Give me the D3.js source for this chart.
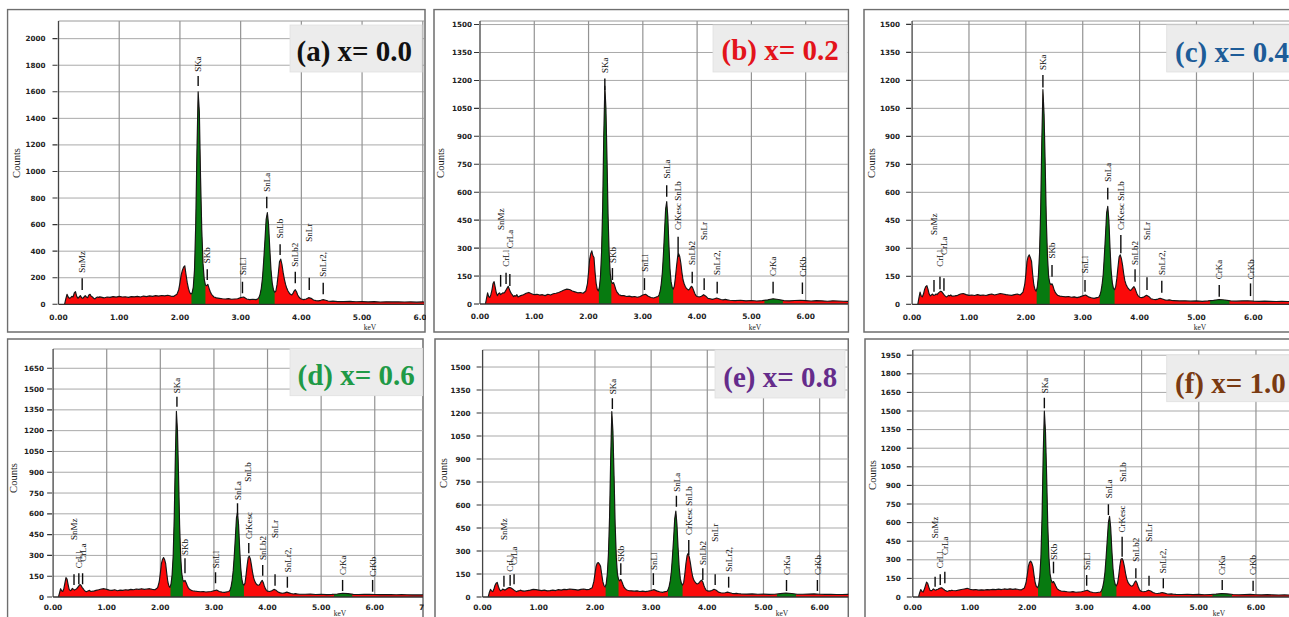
<!DOCTYPE html>
<html>
<head>
<meta charset="utf-8">
<script src="https://cdn.jsdelivr.net/npm/d3@7"></script>
<style>
  body { margin: 0; background: #ffffff; }
  svg { display: block; }
</style>
</head>
<body>
<svg id="chart" width="1289" height="617"></svg>
<script>
// ---------- Spectrum channels (keV) shared by all six samples ----------
const energy = [
  0.10,0.12,0.14,0.16,0.18,0.20,0.22,0.24,0.26,0.28,0.30,0.32,0.34,0.36,0.38,0.40,
  0.42,0.44,0.46,0.48,0.50,0.52,0.54,0.56,0.58,0.60,0.62,0.64,0.66,0.68,0.70,
  0.75,0.80,0.85,0.90,0.95,1.00,1.05,1.10,1.15,1.20,1.25,1.30,1.35,1.40,1.45,1.50,
  1.55,1.60,1.65,1.70,1.75,1.80,1.85,1.90,1.95,
  1.98,2.00,2.02,2.04,2.06,2.08,2.10,2.12,2.14,2.16,2.18,2.20,2.22,2.24,2.26,2.28,
  2.30,2.32,2.34,2.36,2.38,2.40,2.42,2.44,2.46,2.48,2.50,2.52,2.54,2.56,2.58,2.60,
  2.65,2.70,2.75,2.80,2.85,2.90,2.95,3.00,3.05,3.10,3.15,3.20,3.25,
  3.28,3.30,3.32,3.34,3.36,3.38,3.40,3.42,3.44,3.46,3.48,3.50,3.52,3.54,3.56,3.58,
  3.60,3.62,3.64,3.66,3.68,3.70,3.72,3.74,3.76,3.78,3.80,3.82,3.84,3.86,3.88,3.90,
  3.92,3.94,3.96,3.98,4.00,
  4.04,4.08,4.12,4.16,4.20,4.24,4.28,4.32,4.36,4.40,4.44,4.48,4.52,4.56,4.60,
  4.70,4.80,4.90,5.00,5.10,5.20,5.30,5.40,5.50,5.60,5.70,5.80,5.90,6.00,6.10,6.20,
  6.30,6.40,6.50,6.60,6.70,6.80,6.90,7.00
];

// ---------- Counts per channel ----------
const countsA = [
  0,40,75,55,45,50,60,55,85,95,60,45,55,65,50,45,55,65,55,50,70,75,60,55,45,40,50,55,52,56,54,
  48,55,52,58,54,60,55,57,52,58,56,60,55,62,58,63,60,65,62,66,63,68,62,60,75,
  110,160,220,255,280,290,225,165,120,90,78,85,130,260,600,1150,1600,1450,950,560,310,190,145,140,150,120,95,75,65,55,52,48,
  45,42,40,43,38,40,42,50,55,40,35,38,35,
  40,50,75,120,200,330,480,640,690,600,420,260,160,110,90,100,150,230,320,340,300,240,190,150,120,100,85,75,70,80,100,110,95,70,55,45,40,
  35,40,50,45,32,28,26,30,35,30,25,22,24,22,20,
  20,22,19,20,18,20,17,19,18,18,17,18,16,18,15,17,16,15,17,15,16,14,15,14
];
const countsB = [
  0,30,60,40,35,50,75,110,120,90,60,45,55,60,50,55,60,58,65,75,85,95,80,65,55,48,40,45,42,50,38,
  45,50,58,62,55,50,52,48,50,45,52,48,55,58,62,68,75,80,78,70,65,60,62,58,70,
  110,170,240,270,285,260,250,170,110,80,70,90,150,280,520,900,1170,1050,780,470,270,160,120,110,115,100,80,65,58,50,48,45,
  45,40,42,38,40,36,40,48,52,42,35,32,38,
  40,50,70,110,170,270,390,510,550,470,320,190,120,90,80,95,140,200,250,270,255,220,170,130,110,95,85,80,75,80,90,95,85,70,55,45,40,
  38,42,50,42,30,28,25,28,32,28,24,22,25,22,20,
  18,20,17,19,16,18,22,28,24,18,17,19,20,18,16,18,17,15,17,16,15,14,15,14
];
const countsC = [
  0,35,65,45,40,55,80,95,100,80,55,45,50,55,48,50,55,52,60,65,70,68,60,52,45,40,42,48,45,50,44,
  45,48,55,58,52,48,50,47,52,48,50,47,52,55,50,54,58,55,52,50,48,52,55,50,65,
  105,160,230,255,265,250,230,160,105,80,70,90,150,270,500,870,1150,1020,750,450,260,150,115,105,110,95,75,62,55,48,46,44,
  42,40,42,38,40,36,40,45,50,40,35,32,36,
  38,48,68,105,160,260,370,490,525,450,300,180,115,85,78,95,140,200,255,265,245,210,165,128,108,95,85,78,74,80,88,95,85,68,52,44,38,
  36,40,48,42,30,27,25,28,32,28,24,22,24,21,20,
  18,19,17,18,16,18,21,26,23,18,17,18,19,17,16,17,16,15,16,15,15,14,14,14
];
const countsD = [
  0,30,60,45,40,60,100,140,130,90,55,45,50,62,55,50,55,60,70,80,90,85,70,60,50,42,38,42,45,48,40,
  42,48,52,58,60,55,50,48,52,45,50,48,52,50,55,52,58,55,60,55,58,60,55,52,68,
  110,170,240,270,285,270,240,170,110,80,70,95,160,300,580,1000,1340,1200,880,520,290,170,125,110,120,105,85,68,58,52,48,45,
  42,40,38,40,36,38,40,45,50,40,35,33,38,
  40,50,75,120,190,300,430,570,610,520,350,210,130,95,85,100,160,230,285,295,275,230,180,140,115,100,90,85,85,95,110,120,105,80,60,48,42,
  40,45,55,48,35,30,27,30,35,30,25,22,24,22,20,
  20,21,18,20,17,19,22,27,24,19,18,19,20,18,17,18,17,16,17,16,15,15,15,14
];
const countsE = [
  0,30,50,40,35,50,75,90,95,70,50,40,45,52,48,45,50,55,60,62,60,55,50,45,40,35,38,40,42,45,40,
  38,42,45,50,48,45,42,45,40,42,45,42,48,45,50,48,52,50,48,45,50,52,48,50,60,
  100,150,200,220,225,215,200,150,100,75,65,85,150,280,520,900,1210,1080,790,470,260,150,115,105,115,100,80,62,54,48,44,42,
  40,38,40,36,38,35,38,42,48,40,34,30,35,
  36,46,68,105,165,265,380,510,560,470,320,190,118,88,78,95,150,220,270,285,260,220,170,132,110,98,90,85,88,95,105,110,98,75,56,45,40,
  38,42,50,44,32,28,26,28,32,28,24,22,24,21,20,
  19,20,18,19,17,18,22,26,23,18,18,19,20,18,17,18,16,16,17,16,15,15,15,14
];
const countsF = [
  0,35,60,45,40,60,90,120,110,80,55,50,55,65,58,55,60,62,68,72,75,70,62,55,50,45,48,52,50,55,52,
  50,55,60,65,70,62,58,60,55,58,56,60,58,62,60,64,60,65,62,66,62,65,60,58,72,
  115,175,245,280,290,275,245,175,115,85,75,95,165,320,650,1150,1500,1330,980,580,320,185,135,115,125,108,88,70,60,54,50,46,
  45,42,40,43,38,40,42,48,55,42,36,34,38,
  40,52,78,125,200,320,460,600,650,560,380,230,140,100,90,110,170,250,305,310,290,245,190,148,120,105,95,88,90,100,120,130,112,85,62,50,44,
  42,46,55,48,36,30,28,31,36,31,26,23,25,22,21,
  20,22,19,21,18,20,23,28,25,20,18,19,21,18,17,19,17,16,17,16,16,15,15,14
];

// ---------- Peak identifications: [label, keV, tick foot, tick head, label foot] (counts) ----------
const markersA = [
  ["SnMz",0.39,108,196,238], ["SKa",2.30,1644,1719,1751], ["SKb",2.45,183,264,309],
  ["SnLl",3.03,83,170,221], ["SnLa",3.43,723,810,848], ["SnLb",3.65,371,452,497],
  ["SnLb2",3.90,158,245,283], ["SnLr",4.13,108,200,471], ["SnLr2,",4.36,75,163,208]
];
const markersB = [
  ["SnMz",0.38,93,156,397], ["CrLl",0.48,107,168,200], ["CrLa",0.55,97,161,299],
  ["SKa",2.30,1148,1210,1240], ["SKb",2.44,129,193,220], ["SnLl",3.03,75,139,173],
  ["SnLa",3.44,575,638,674], ["CrKesc SnLb",3.65,252,361,397], ["SnLb2",3.91,111,173,209],
  ["SnLr",4.13,75,138,343], ["SnLr2,",4.37,57,120,156], ["CrKa",5.40,57,120,150],
  ["CrKb",5.94,54,116,146]
];
const markersC = [
  ["SnMz",0.385,67,130,371], ["CrLl",0.49,80,148,201], ["CrLa",0.56,73,139,264],
  ["SKa",2.30,1162,1228,1255], ["SKb",2.46,148,211,246], ["SnLl",3.04,67,130,166],
  ["SnLa",3.44,562,625,657], ["CrKesc SnLb",3.67,273,371,398], ["SnLb2",3.92,121,188,211],
  ["SnLr",4.13,77,145,344], ["SnLr2,",4.39,62,126,157], ["CrKa",5.40,41,103,134],
  ["CrKb",5.95,44,112,134]
];
const markersD = [
  ["SnMz",0.39,87,164,411], ["CrLl",0.48,92,171,207], ["CrLa",0.55,92,171,255],
  ["SKa",2.31,1373,1445,1470], ["SKb",2.46,171,279,303], ["SnLl",3.03,99,178,207],
  ["SnLa",3.44,592,676,700], ["CrKesc",3.65,315,390,418], ["SnLb",3.64,null,null,832],
  ["SnLb2",3.91,154,231,267], ["SnLr",4.14,82,164,426], ["SnLr2,",4.37,67,146,178],
  ["CrKa",5.40,43,123,159], ["CrKb",5.96,38,123,146]
];
const markersE = [
  ["SnMz",0.38,67,139,372], ["CrLl",0.49,74,143,165], ["CrLa",0.56,83,148,209],
  ["SKa",2.31,1226,1296,1322], ["SKb",2.46,143,220,230], ["SnLl",3.04,78,155,176],
  ["SnLa",3.45,589,661,687], ["CrKesc SnLb",3.67,274,372,404], ["SnLb2",3.92,111,187,209],
  ["SnLr",4.14,78,148,361], ["SnLr2,",4.38,61,132,165], ["CrKa",5.41,39,111,143],
  ["CrKb",5.96,39,111,143]
];
const markersF = [
  ["SnMz",0.39,83,164,473], ["CrLl",0.48,97,183,231], ["CrLa",0.56,110,204,339],
  ["SKa",2.30,1522,1607,1643], ["SKb",2.46,191,285,300], ["SnLl",3.04,91,177,218],
  ["SnLa",3.42,661,748,796], ["SnLb",3.68,null,null,930], ["CrKesc",3.66,325,486,520],
  ["SnLb2",3.90,151,231,285], ["SnLr",4.13,91,172,446], ["SnLr2,",4.38,70,151,191],
  ["CrKa",5.41,56,137,177], ["CrKb",5.95,48,131,177]
];

// ---------- Axis ticks ----------
const kevTicks = [0,1,2,3,4,5,6,7];
const ticksA = [0,200,400,600,800,1000,1200,1400,1600,1800,2000];
const ticksB = [0,150,300,450,600,750,900,1050,1200,1350,1500];
const ticksC = [0,150,300,450,600,750,900,1050,1200,1350,1500];
const ticksD = [0,150,300,450,600,750,900,1050,1200,1350,1500,1650];
const ticksE = [0,150,300,450,600,750,900,1050,1200,1350,1500];
const ticksF = [0,150,300,450,600,750,900,1050,1200,1350,1500,1650,1800,1950];

// ---------- Highlighted line windows (keV) ----------
const sulfurTinBands = [[2.19,2.42],[3.30,3.56]];
const chromiumBand = [5.24,5.58];

// ---------- Samples ----------
const titles = ["(a) x= 0.0","(b) x= 0.2","(c) x= 0.4","(d) x= 0.6","(e) x= 0.8","(f) x= 1.0"];
const samples = [
  {id:"a", counts:countsA, markers:markersA, yTicks:ticksA, chromium:false},
  {id:"b", counts:countsB, markers:markersB, yTicks:ticksB, chromium:true},
  {id:"c", counts:countsC, markers:markersC, yTicks:ticksC, chromium:true},
  {id:"d", counts:countsD, markers:markersD, yTicks:ticksD, chromium:true},
  {id:"e", counts:countsE, markers:markersE, yTicks:ticksE, chromium:true},
  {id:"f", counts:countsF, markers:markersF, yTicks:ticksF, chromium:true}
];

// ---------- Page layout ----------
const PAGE_W = 1289;
const titleColors = {a:"#111111", b:"#e3141b", c:"#1d5c98", d:"#1f9a47", e:"#652c8b", f:"#7a3a12"};
const layout = {
  a:{frame:[7.5,9.5,425,332], plot:[58.5,21,424,304.3], xMax:6.02, yMax:2133, labelGap:13,
     countsAt:[16,163], kevAt:[370,330], box:[290,25,422,72], titleAt:[296.5,61], tickY:319.5},
  b:{frame:[434,9.5,848.5,332], plot:[480,21,848,304], xMax:6.78, yMax:1519, labelGap:8,
     countsAt:[440,163], kevAt:[755,329.5], box:[713,25,847,72], titleAt:[721.5,60], tickY:319},
  c:{frame:[864,9.5,1300,332], plot:[912.1,21,1300,304.3], xMax:6.82, yMax:1518, labelGap:12,
     countsAt:[871.7,163], kevAt:[1200,330], box:[1166.7,25,1300,72], titleAt:[1175,61.5], tickY:319.5},
  d:{frame:[7.5,339,423,640], plot:[53.1,349,423,597], xMax:6.90, yMax:1789, labelGap:9,
     countsAt:[13.3,478], kevAt:[340,616], box:[290,348.3,422.7,395.7], titleAt:[297.5,385], tickY:610},
  e:{frame:[435,339,848.3,640], plot:[482.6,350,848.3,597], xMax:6.51, yMax:1611, labelGap:12,
     countsAt:[443.3,473], kevAt:[782,616], box:[715,350,845,398], titleAt:[723.3,386.5], tickY:610},
  f:{frame:[865,339,1300,640], plot:[912.8,350,1300,597], xMax:6.77, yMax:1992, labelGap:12,
     countsAt:[872.7,475], kevAt:[1219,616], box:[1166.7,355,1300,401.7], titleAt:[1175,393], tickY:610}
};

const svg = d3.select("#chart");
const defs = svg.append("defs");
const fmtKev = d3.format(".2f");

samples.forEach((s, idx) => {
  const L = layout[s.id];
  const [fx0, fy0, fx1, fy1] = L.frame;
  const [pl, pt, pr, pb] = L.plot;

  defs.append("clipPath").attr("id", "frame-" + s.id)
    .append("rect").attr("x", fx0 - 1).attr("y", fy0 - 1)
    .attr("width", fx1 - fx0 + 2).attr("height", fy1 - fy0 + 2);
  defs.append("clipPath").attr("id", "plot-" + s.id)
    .append("rect").attr("x", pl).attr("y", pt).attr("width", pr - pl).attr("height", pb - pt + 0.5);

  const g = svg.append("g").attr("clip-path", `url(#frame-${s.id})`);

  // panel frame
  g.append("rect").attr("x", fx0).attr("y", fy0)
    .attr("width", fx1 - fx0).attr("height", fy1 - fy0)
    .attr("fill", "#ffffff").attr("stroke", "#6e6e6e").attr("stroke-width", 1.5);

  const x = d3.scaleLinear().domain([0, L.xMax]).range([pl, pr]);
  const y = d3.scaleLinear().domain([0, L.yMax]).range([pb, pt]);

  // grid
  g.append("g").selectAll("line").data(s.yTicks.filter(t => t > 0)).join("line")
    .attr("x1", pl).attr("x2", pr).attr("y1", d => y(d)).attr("y2", d => y(d))
    .attr("stroke", "#a9a9a9").attr("stroke-width", 1);
  g.append("g").selectAll("line").data(kevTicks.filter(t => t > 0 && t <= L.xMax)).join("line")
    .attr("x1", d => x(d)).attr("x2", d => x(d)).attr("y1", pt).attr("y2", pb)
    .attr("stroke", "#939393").attr("stroke-width", 1.2);
  g.append("line").attr("x1", pl).attr("x2", pr).attr("y1", pt).attr("y2", pt)
    .attr("stroke", "#9a9a9a").attr("stroke-width", 1);

  // spectrum
  const pts = energy.map((e, i) => [e, s.counts[i]]);
  const area = d3.area().x(d => x(d[0])).y0(y(0)).y1(d => y(d[1]));
  const line = d3.line().x(d => x(d[0])).y(d => y(d[1]));
  const spec = g.append("g").attr("clip-path", `url(#plot-${s.id})`);
  spec.append("path").datum(pts).attr("d", area).attr("fill", "#fb0a0a");

  const bands = s.chromium ? sulfurTinBands.concat([chromiumBand]) : sulfurTinBands;
  bands.forEach((b, bi) => {
    const cid = `band-${s.id}-${bi}`;
    defs.append("clipPath").attr("id", cid).append("rect")
      .attr("x", x(b[0])).attr("y", pt).attr("width", x(b[1]) - x(b[0])).attr("height", pb - pt);
    spec.append("g").attr("clip-path", `url(#${cid})`)
      .append("path").datum(pts).attr("d", area).attr("fill", "#077a10");
  });
  spec.append("path").datum(pts).attr("d", line)
    .attr("fill", "none").attr("stroke", "#161616").attr("stroke-width", 1.15)
    .attr("stroke-linejoin", "round");

  // axes
  g.append("line").attr("x1", pl).attr("x2", pl).attr("y1", pt).attr("y2", pb)
    .attr("stroke", "#444").attr("stroke-width", 1.3);
  g.append("line").attr("x1", pl).attr("x2", pr).attr("y1", pb).attr("y2", pb)
    .attr("stroke", "#333").attr("stroke-width", 1.3);

  // y ticks
  const yt = g.append("g");
  yt.selectAll("line").data(s.yTicks).join("line")
    .attr("x1", pl - 6).attr("x2", pl - 1).attr("y1", d => y(d)).attr("y2", d => y(d))
    .attr("stroke", "#333").attr("stroke-width", 1.1);
  yt.selectAll("text").data(s.yTicks).join("text")
    .attr("x", pl - L.labelGap).attr("y", d => y(d)).attr("dy", "0.35em")
    .attr("text-anchor", "end")
    .style("font-family", "'DejaVu Sans', sans-serif").style("font-size", "7.2px")
    .style("font-weight", "bold").attr("fill", "#222")
    .text(d => d);

  // x tick labels (those whose centre lies on the page)
  g.append("g").selectAll("text")
    .data(kevTicks.filter(t => x(t) < Math.min(fx1 + 12, PAGE_W - 10))).join("text")
    .attr("x", d => x(d)).attr("y", L.tickY).attr("text-anchor", "middle")
    .style("font-family", "'DejaVu Sans', sans-serif").style("font-size", "7.5px")
    .style("font-weight", "bold").attr("fill", "#222")
    .text(d => fmtKev(d));

  // axis titles
  g.append("text")
    .attr("transform", `translate(${L.countsAt[0]},${L.countsAt[1]}) rotate(-90)`)
    .attr("text-anchor", "middle").attr("dy", "0.35em")
    .style("font-family", "'Liberation Serif', serif").style("font-size", "10.5px")
    .attr("fill", "#1a1a1a").text("Counts");
  g.append("text").attr("x", L.kevAt[0]).attr("y", L.kevAt[1]).attr("text-anchor", "middle")
    .style("font-family", "'Liberation Serif', serif").style("font-size", "7.5px")
    .attr("fill", "#222").text("keV");

  // peak identification ticks and labels
  const mk = g.append("g");
  mk.selectAll("line").data(s.markers.filter(m => m[2] !== null)).join("line")
    .attr("x1", d => x(d[1])).attr("x2", d => x(d[1]))
    .attr("y1", d => y(d[2])).attr("y2", d => y(d[3]))
    .attr("stroke", "#0d0d0d").attr("stroke-width", 1.4);
  mk.selectAll("text").data(s.markers).join("text")
    .attr("transform", d => `translate(${x(d[1])},${y(d[4])}) rotate(-90)`)
    .attr("dy", "0.35em").attr("text-anchor", "start")
    .style("font-family", "'Liberation Serif', serif").style("font-size", "9px")
    .attr("fill", "#0d0d0d").text(d => d[0]);

  // sample title
  const [bx0, by0, bx1, by1] = L.box;
  g.append("rect").attr("x", bx0).attr("y", by0).attr("width", bx1 - bx0).attr("height", by1 - by0)
    .attr("fill", "#ececec").attr("stroke", "#e0e0e0").attr("stroke-width", 0.8);
  g.append("text").attr("x", L.titleAt[0]).attr("y", L.titleAt[1])
    .style("font-family", "'Liberation Serif', 'Times New Roman', serif")
    .style("font-size", "29px").style("font-weight", "bold")
    .attr("fill", titleColors[s.id]).text(titles[idx]);
});
</script>
</body>
</html>
